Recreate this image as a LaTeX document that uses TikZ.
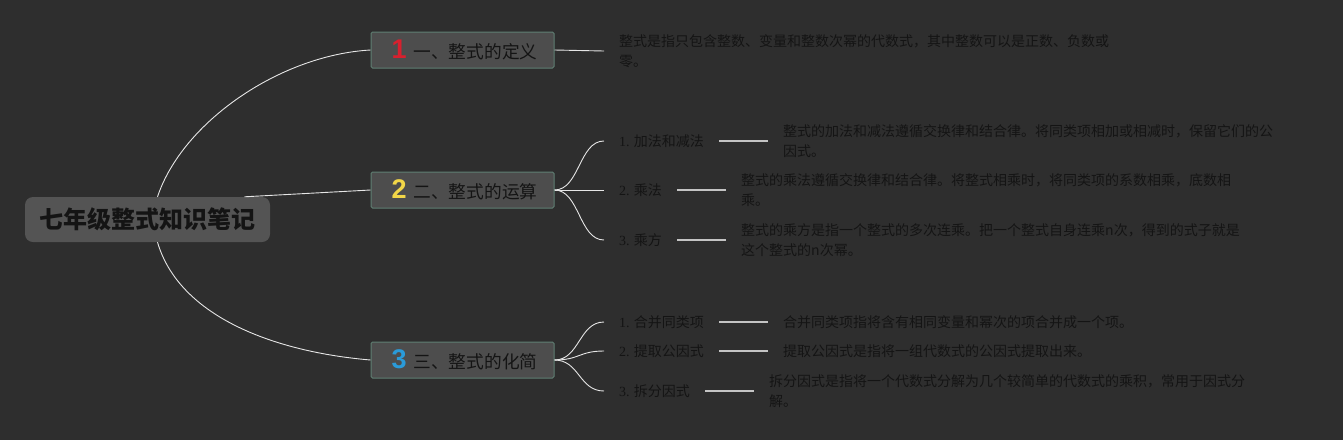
\documentclass[tikz,border=0pt]{standalone}
\usepackage{fontspec}
\setmainfont{Noto Sans CJK SC}
\newfontfamily\numfont{Liberation Sans}
\newfontfamily\serffont{Liberation Serif}
\definecolor{bg}{HTML}{2E2E2E}
\definecolor{rootgray}{HTML}{545454}
\definecolor{topicgray}{HTML}{4D4D4D}
\definecolor{topicedge}{HTML}{5F7F72}
\definecolor{ink}{HTML}{141414}
\definecolor{linkwhite}{HTML}{E6E6E6}
\definecolor{bridgegray}{HTML}{C4C4C4}
\definecolor{numred}{HTML}{D8202E}
\definecolor{numyellow}{HTML}{F2D648}
\definecolor{numblue}{HTML}{2A9BD9}
\newcommand\tnum[2]{\hspace{4pt}{\numfont\bfseries\fontsize{27}{27}\selectfont\color{#1}#2}\hspace{7pt}}
\newcommand\subno[1]{{\serffont #1} }
\begin{document}
\begin{tikzpicture}[x=1pt, y=-1pt,
  root/.style={rounded corners=8pt, fill=rootgray, text=ink, minimum width=245pt, minimum height=45pt, font=\fontsize{24}{24}\selectfont\bfseries},
  topic/.style={draw=topicedge, fill=topicgray, line width=1pt, rounded corners=1.5pt, minimum width=183pt, minimum height=36pt, inner sep=0pt, text=ink, font=\fontsize{17.7}{17.7}\selectfont},
  sub/.style={anchor=west, inner xsep=15pt, inner ysep=0pt, text=ink, font=\fontsize{14}{14}\selectfont},
  desc/.style={anchor=west, inner xsep=15pt, inner ysep=0pt, align=left, text=ink, font=\fontsize{14}{20}\selectfont},
  link/.style={draw=linkwhite, line width=0.9pt},
  bridge/.style={draw=bridgegray, line width=1.8pt}]
\useasboundingbox[fill=bg] (0,0) rectangle (1343,440);

\node[root] (root) at (147.5,219.5) {七年级整式知识笔记};
\node[topic] (t1) at (462.5,50) {\tnum{numred}{1}一、整式的定义};
\node[topic] (t2) at (462.5,190) {\tnum{numyellow}{2}二、整式的运算};
\node[topic] (t3) at (462.5,360) {\tnum{numblue}{3}三、整式的化简};

\node[desc] (d1) at (604,51) {整式是指只包含整数、变量和整数次幂的代数式，其中整数可以是正数、负数或\\零。};

\node[sub] (s21) at (604,141) {\subno{1.}加法和减法};
\node[sub] (s22) at (604,190) {\subno{2.}乘法};
\node[sub] (s23) at (604,240) {\subno{3.}乘方};
\node[desc] (d21) at (768,141) {整式的加法和减法遵循交换律和结合律。将同类项相加或相减时，保留它们的公\\因式。};
\node[desc] (d22) at (726,190) {整式的乘法遵循交换律和结合律。将整式相乘时，将同类项的系数相乘，底数相\\乘。};
\node[desc] (d23) at (726,240) {整式的乘方是指一个整式的多次连乘。把一个整式自身连乘n次，得到的式子就是\\这个整式的n次幂。};

\node[sub] (s31) at (604,322) {\subno{1.}合并同类项};
\node[sub] (s32) at (604,351) {\subno{2.}提取公因式};
\node[sub] (s33) at (604,391) {\subno{3.}拆分因式};
\node[desc] (d31) at (768,322) {合并同类项指将含有相同变量和幂次的项合并成一个项。};
\node[desc] (d32) at (768,351) {提取公因式是指将一组代数式的公因式提取出来。};
\node[desc] (d33) at (754,391) {拆分因式是指将一个代数式分解为几个较简单的代数式的乘积，常用于因式分\\解。};

\path[link]
  ([xshift=10pt]root.north) .. controls +(25,-75) and +(-90,5) .. (t1.west)
  ([xshift=97pt]root.north) -- (t2.west)
  ([xshift=10pt]root.south) .. controls +(22,75) and +(-95,-8) .. (t3.west);
\path[link] (t1.east) -- (d1.west);
\foreach \s in {s21,s22,s23}
  \path[link] (t2.east) .. controls +(25,0) and +(-25,0) .. (\s.west);
\foreach \s in {s31,s32,s33}
  \path[link] (t3.east) .. controls +(25,0) and +(-25,0) .. (\s.west);
\path[bridge] (s21.east) -- (d21.west) (s22.east) -- (d22.west) (s23.east) -- (d23.west)
  (s31.east) -- (d31.west) (s32.east) -- (d32.west) (s33.east) -- (d33.west);
\end{tikzpicture}
\end{document}
